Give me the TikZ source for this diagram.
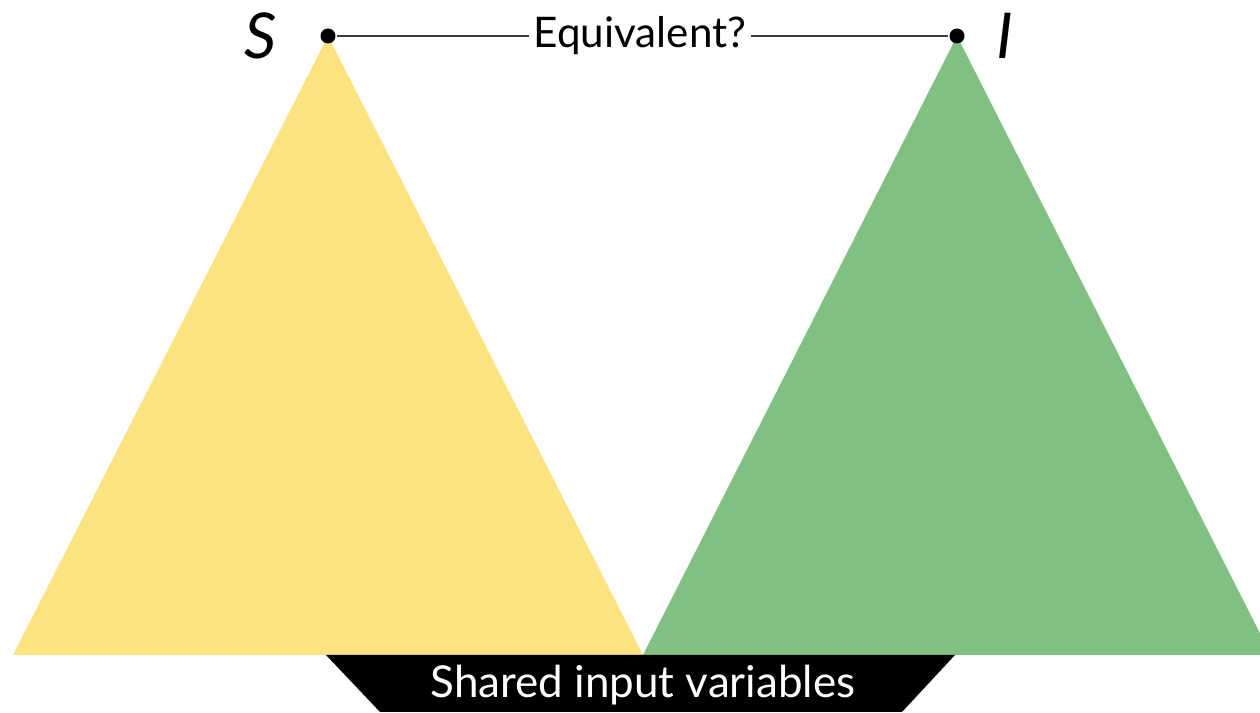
\documentclass[tikz,border=0pt]{standalone}
\usepackage{fontspec}
\setmainfont{Lato}
\usepackage{tikz}
\usetikzlibrary{positioning,calc}
\definecolor{specyellow}{RGB}{252,226,128}
\definecolor{implgreen}{RGB}{128,192,128}
\definecolor{linegrey}{RGB}{60,60,60}
\begin{document}
\begin{tikzpicture}[x=0.1mm, y=0.1mm, line width=0.7pt]

% small styles
\tikzset{
  dot/.style={circle, fill=black, inner sep=0pt, minimum size=1.5mm},
  lbl/.style={font=\fontsize{12}{14}\selectfont, inner sep=1pt},
  sidelbl/.style={font=\fontsize{18}{21}\selectfont\itshape}
}

\useasboundingbox (0,0) rectangle (1260,713);
\clip (0,0) rectangle (1260,713);

% -----------------------------------------
% the two circuits
% -----------------------------------------
\fill[specyellow] (13,58) -- (328,677) -- (643,58) -- cycle;
\fill[implgreen] (643,58) -- (957,677) -- (1271,58) -- cycle;

% shared inputs band
\fill[black] (326,58) -- (955,58) -- (902,1) -- (380,1) -- cycle;
\node[lbl, text=white, font=\fontsize{12.5}{15}\selectfont] (inputs) at (643,28) {Shared input variables};

% -----------------------------------------
% outputs and the question
% -----------------------------------------
\node[dot] (S) at (328,677) {};
\node[dot] (I) at (957,677) {};
\node[sidelbl, left=0.3cm of S] (Slbl) {S};
\node[sidelbl, right=0.18cm of I] (Ilbl) {I};

\node[lbl, fill=white] (eq) at (640,677) {Equivalent?};
\draw[linegrey] (S) -- (eq);
\draw[linegrey] (eq) -- (I);
\end{tikzpicture}
\end{document}
